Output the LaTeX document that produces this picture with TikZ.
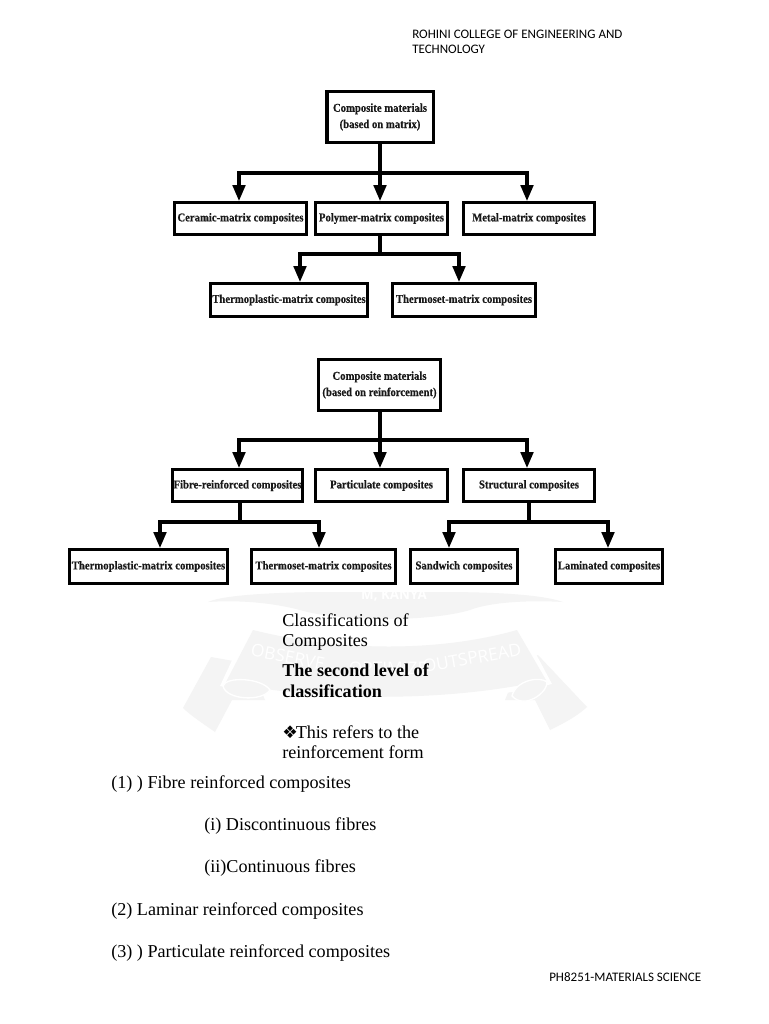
\documentclass[tikz,border=0pt]{standalone}
\usepackage{fontspec}
\setmainfont{Liberation Serif}
\newfontfamily\hdfont{Carlito}
\newfontfamily\dingfont{DejaVu Sans}
\newfontfamily\boxfont[FakeStretch=0.89,FakeBold=0.4]{Liberation Serif Bold}
\newfontfamily\wmfont{Open Sans}
\usetikzlibrary{arrows.meta,calc}
\definecolor{wm}{gray}{0.955}
\tikzset{
  x=0.75pt,y=-0.75pt,
  boxbase/.style={draw=black,fill=white,inner sep=0pt,outer sep=0pt,align=center,text=black!90,
     font=\boxfont\fontsize{9pt}{12.2pt}\selectfont},
  link/.style={line width=2.7pt,draw=black},
  linkthick/.style={line width=3.5pt,draw=black},
  linkthin/.style={line width=2.3pt,draw=black},
  drop/.style={line width=2.3pt,draw=black,-{Triangle[width=9.5pt,length=12pt]},shorten >=0pt},
  body/.style={anchor=base west,inner sep=0pt,font=\fontsize{13.6pt}{15pt}\selectfont},
  bodyb/.style={body,font=\fontsize{13.6pt}{15pt}\selectfont\bfseries},
  hd/.style={anchor=base west,inner sep=0pt,font=\hdfont\fontsize{9.75pt}{10pt}\selectfont},
  wmtext/.style={inner sep=0pt,text=white,font=\wmfont\fontsize{13pt}{15pt}\selectfont},
}
% name, x1, y1, x2, y2, border px, text
\newcommand{\bxn}[7]{%
  \pgfmathsetmacro{\bw}{(#4-#2-#6)*0.75}%
  \pgfmathsetmacro{\bh}{(#5-#3-#6)*0.75}%
  \pgfmathsetmacro{\blw}{#6*0.75}%
  \node[boxbase,line width=\blw pt,minimum width=\bw pt,minimum height=\bh pt] (#1) at ({(#2+#4)/2},{(#3+#5)/2}) {#7};}
\begin{document}
\begin{tikzpicture}
\useasboundingbox (0,0) rectangle (768,1024);
\fill[white] (0,0) rectangle (768,1024);
% watermark: upper band
\fill[wm] (208,602) .. controls (225,594) and (290,592) .. (330,592) -- (440,592) .. controls (490,592) and (540,594) .. (563,602)
  .. controls (530,600) and (490,602) .. (470,610) .. controls (430,622) and (340,622) .. (300,610) .. controls (270,602) and (235,600) .. (208,602) -- cycle;
% watermark: tails
\fill[wm] (211,657) -- (183,708) .. controls (190,715) and (205,725) .. (215,732) -- (232,700) -- (265,700) -- (250,664) -- cycle;
\fill[wm] (538,655) -- (587,707) .. controls (575,718) and (560,725) .. (550,730) -- (535,700) -- (505,700) -- (520,664) -- cycle;
% watermark: main band
\fill[white] (248,626) .. controls (340,650) and (440,650) .. (521,626) -- (552,684) .. controls (450,708) and (320,708) .. (220,686) -- cycle;
\fill[wm] (253,630) .. controls (340,652) and (440,652) .. (517,630) -- (546,680) .. controls (450,702) and (320,702) .. (226,682) -- cycle;
% watermark: folds
\fill[wm,draw=white,line width=1pt] (223,686) .. controls (226,676) and (262,678) .. (270,690) .. controls (262,702) and (226,700) .. (223,686) -- cycle;
\fill[wm,draw=white,line width=1pt] (512,696) .. controls (516,680) and (540,676) .. (547,682) .. controls (548,692) and (525,710) .. (512,696) -- cycle;
\node[wmtext,rotate=-11] (wma) at (288,657) {OBSERVE};
\node[wmtext] (wmb) at (388,668) {OPTIMIZE};
\node[wmtext,rotate=10] (wmc) at (472,658) {OUTSPREAD};
\node[inner sep=0pt,text=white,font=\wmfont\fontsize{10pt}{12pt}\selectfont\bfseries] (wmd) at (394,596) {M, KANYA};
% header / footer
\node[hd] (h1) at (412,39) {ROHINI COLLEGE OF ENGINEERING AND};
\node[hd] (h2) at (412,54) {TECHNOLOGY};
\node[hd] (f1) at (549,981) {PH8251-MATERIALS SCIENCE};
% first chart
\bxn{top1}{325}{90}{435}{144}{3.5}{Composite materials\\(based on matrix)}
\bxn{cer}{173}{201}{308}{236}{2.8}{Ceramic-matrix composites}
\bxn{pol}{314}{201}{449}{236}{2.8}{Polymer-matrix composites}
\bxn{met}{462}{201}{596}{236}{2.8}{Metal-matrix composites}
\bxn{tp1}{209}{282}{369}{318}{2.8}{Thermoplastic-matrix composites}
\bxn{ts1}{391}{282}{537}{318}{2.8}{Thermoset-matrix composites}
\coordinate (j1) at (380,173);
\coordinate (j1a) at (239,173);
\coordinate (j1c) at (527,173);
\coordinate (t1a) at (239,201);
\coordinate (t1b) at (380,201);
\coordinate (t1c) at (527,201);
\draw[link] (top1.south -| j1) -- (j1);
\draw[link] ([xshift=-1.15pt]j1a) -- ([xshift=1.15pt]j1c);
\draw[drop] (j1a) -- (t1a);
\draw[drop] (j1) -- (t1b);
\draw[drop] (j1c) -- (t1c);
\coordinate (j2) at (380,254);
\coordinate (j2a) at (300,254);
\coordinate (j2c) at (459,254);
\coordinate (t2a) at (300,282);
\coordinate (t2c) at (459,282);
\draw[link] (pol.south -| j2) -- (j2);
\draw[link] ([xshift=-1.15pt]j2a) -- ([xshift=1.15pt]j2c);
\draw[drop] (j2a) -- (t2a);
\draw[drop] (j2c) -- (t2c);
% second chart
\bxn{top2}{317}{358}{442}{412}{3}{Composite materials\\(based on reinforcement)}
\bxn{fib}{171}{468}{304}{503}{2.8}{Fibre-reinforced composites}
\bxn{par}{314}{468}{449}{503}{2.8}{Particulate composites}
\bxn{str}{462}{468}{596}{503}{2.8}{Structural composites}
\bxn{tp2}{68}{548}{229}{585}{2.8}{Thermoplastic-matrix composites}
\bxn{ts2}{250}{548}{397}{585}{2.8}{Thermoset-matrix composites}
\bxn{san}{409}{548}{519}{585}{2.8}{Sandwich composites}
\bxn{lam}{554}{548}{664}{585}{2.8}{Laminated composites}
\coordinate (j3) at (380,440);
\coordinate (j3a) at (239,440);
\coordinate (j3c) at (527,440);
\coordinate (t3a) at (239,468);
\coordinate (t3b) at (380,468);
\coordinate (t3c) at (527,468);
\draw[link] (top2.south -| j3) -- (j3);
\draw[link] ([xshift=-1.15pt]j3a) -- ([xshift=1.15pt]j3c);
\draw[drop] (j3a) -- (t3a);
\draw[drop] (j3) -- (t3b);
\draw[drop] (j3c) -- (t3c);
\coordinate (j4) at (240,522);
\coordinate (j4a) at (160,522);
\coordinate (j4c) at (319,522);
\coordinate (t4a) at (160,548);
\coordinate (t4c) at (319,548);
\draw[linkthin] (fib.south -| j4) -- (j4);
\draw[linkthick] ([xshift=-1.15pt]j4a) -- ([xshift=1.15pt]j4c);
\draw[drop] (j4a) -- (t4a);
\draw[drop] (j4c) -- (t4c);
\coordinate (j5) at (529,522);
\coordinate (j5a) at (449,522);
\coordinate (j5c) at (608,522);
\coordinate (t5a) at (449,548);
\coordinate (t5c) at (608,548);
\draw[linkthin] (str.south -| j5) -- (j5);
\draw[linkthick] ([xshift=-1.15pt]j5a) -- ([xshift=1.15pt]j5c);
\draw[drop] (j5a) -- (t5a);
\draw[drop] (j5c) -- (t5c);
% body text
\node[body] (b1) at (282,626) {Classifications of};
\node[body] (b2) at (282,646) {Composites};
\node[bodyb] (b3) at (282,676) {The second level of};
\node[bodyb] (b4) at (282,697) {classification};
\node[body] (b5) at (282,738) {{\dingfont\fontsize{13pt}{14pt}\selectfont ❖}\hspace{-1.5pt}This refers to the};
\node[body] (b6) at (282,758) {reinforcement form};
\node[body] (b7) at (111,788) {(1) ) Fibre reinforced composites};
\node[body] (b8) at (204,830) {(i) Discontinuous fibres};
\node[body] (b9) at (204,872) {(ii)Continuous fibres};
\node[body] (b10) at (111,915) {(2) Laminar reinforced composites};
\node[body] (b11) at (111,957) {(3) ) Particulate reinforced composites};
\end{tikzpicture}
\end{document}
